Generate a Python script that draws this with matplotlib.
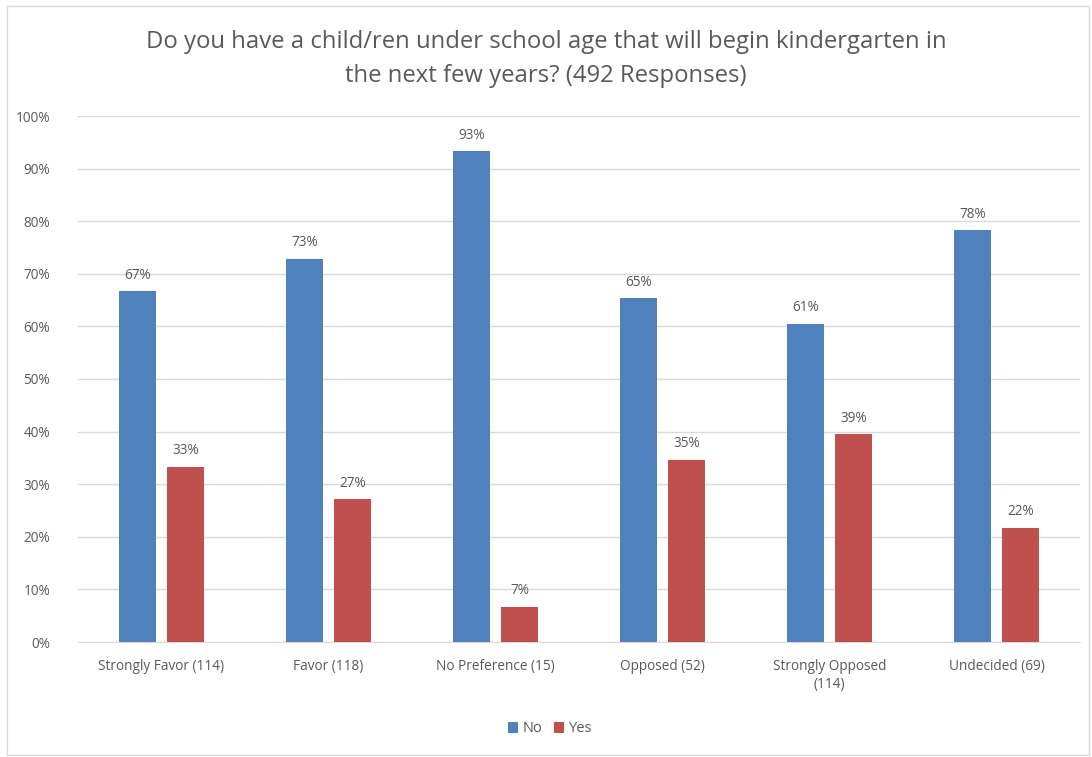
import matplotlib
matplotlib.use("Agg")
import matplotlib.pyplot as plt
import numpy as np
from matplotlib.patches import Rectangle

categories = ["Strongly Favor (114)", "Favor (118)", "No Preference (15)",
              "Opposed (52)", "Strongly Opposed\n(114)", "Undecided (69)"]
no_vals = [66.67, 72.88, 93.33, 65.38, 60.53, 78.26]
yes_vals = [33.33, 27.12, 6.67, 34.62, 39.47, 21.74]
series_names = ["No", "Yes"]
colors = ["#4F81BD", "#C0504D"]
title = "Do you have a child/ren under school age that will begin kindergarten in\nthe next few years? (492 Responses)"

plt.rcParams['font.family'] = ['Open Sans', 'DejaVu Sans']
txt = "#595959"
grid = "#D9D9D9"

fig = plt.figure(figsize=(10.92, 7.57), dpi=100)
ax = fig.add_axes([78/1092, 1-642/757, (1080-78)/1092, (642-116)/757])

x = np.arange(len(categories))
w = 0.222
off = 0.144
b1 = ax.bar(x - off, no_vals, w, color=colors[0], label=series_names[0], zorder=3)
b2 = ax.bar(x + off, yes_vals, w, color=colors[1], label=series_names[1], zorder=3)
for bars, vals in ((b1, no_vals), (b2, yes_vals)):
    for r, v in zip(bars, vals):
        ax.text(r.get_x() + r.get_width()/2, v + 1.6, f"{int(v + 0.5)}%",
                ha="center", va="bottom", fontsize=9.8, color=txt)

ax.set_xlim(-0.5, len(categories) - 0.5)
ax.set_ylim(0, 100)
ax.set_yticks(np.arange(0, 101, 10))
ax.set_yticklabels([f"{t}%" for t in range(0, 101, 10)], fontsize=9.8, color=txt)
ax.set_xticks(x)
ax.set_xticklabels(categories, fontsize=9.8, color=txt, linespacing=1.3)
ax.tick_params(axis="both", length=0)
ax.tick_params(axis="y", pad=20)
ax.tick_params(axis="x", pad=12)
ax.yaxis.grid(True, color=grid, linewidth=1, zorder=0)
for s in ["top", "right", "left"]:
    ax.spines[s].set_visible(False)
ax.spines["bottom"].set_color(grid)
for lbl in ax.get_yticklabels():
    lbl.set_horizontalalignment("right")

fig.text(0.5, 1-59/757, title, ha="center", va="center", fontsize=17.2,
         color=txt, linespacing=1.5)

leg = fig.legend(handles=[b1, b2], labels=series_names, loc="center",
                 bbox_to_anchor=(550/1092, 1-729/757), ncol=2, frameon=False,
                 fontsize=10.5, handlelength=0.7, handleheight=0.7,
                 handletextpad=0.3, columnspacing=0.8)
for t in leg.get_texts():
    t.set_color(txt)

fig.patches.append(Rectangle((7/1092, 1-755/757), (1089-7)/1092, (755-6)/757,
                             transform=fig.transFigure, fill=False,
                             edgecolor="#D9D9D9", linewidth=1))

fig.savefig("out.png", dpi=100)
